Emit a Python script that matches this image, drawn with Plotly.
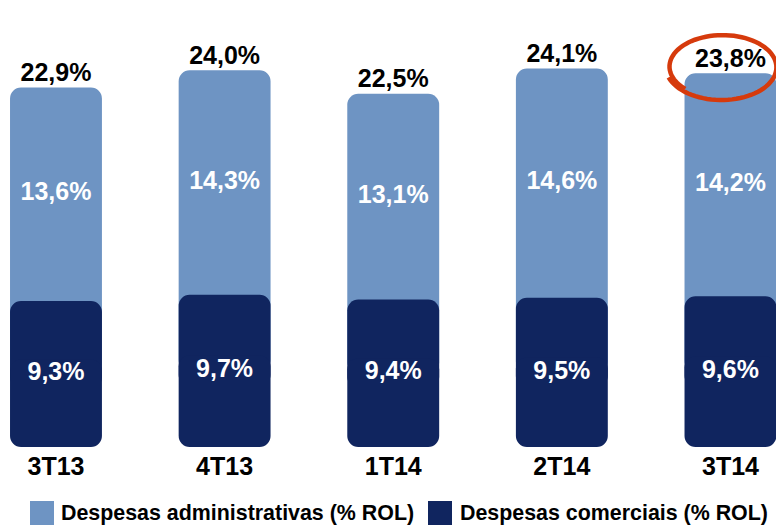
import numpy as np
import plotly.graph_objects as go

categories = ["3T13", "4T13", "1T14", "2T14", "3T14"]
desp_admin = [13.6, 14.3, 13.1, 14.6, 14.2]
desp_comerc = [9.3, 9.7, 9.4, 9.5, 9.6]
totals = [22.9, 24.0, 22.5, 24.1, 23.8]
legend_labels = ["Despesas administrativas (% ROL)", "Despesas comerciais (% ROL)"]

def pct(v):
    return f"{v:.1f}%".replace(".", ",")

LIGHT = "#6E94C3"
DARK = "#10255F"
FONT = "Liberation Sans, Arial, sans-serif"
BW = 0.545
R = 11
YMAX = 28.47

x = list(range(len(categories)))

fig = go.Figure()
# light (admin) segment: from inside the dark bar up to the total, rounded top
fig.add_trace(go.Bar(x=x, y=[t - c / 2 for t, c in zip(totals, desp_comerc)],
                     base=[c / 2 for c in desp_comerc],
                     width=BW, marker=dict(color=LIGHT, cornerradius=R, line=dict(width=0)),
                     showlegend=False, hoverinfo="skip"))
# dark (comercial) segment, upper part (rounded top)
fig.add_trace(go.Bar(x=x, y=[c * 0.6 for c in desp_comerc], base=[c * 0.4 for c in desp_comerc],
                     width=BW, marker=dict(color=DARK, cornerradius=R, line=dict(width=0)),
                     showlegend=False, hoverinfo="skip"))
# labels on the main axis
fig.add_trace(go.Scatter(x=x, y=[(c + t) / 2 for c, t in zip(desp_comerc, totals)], mode="text",
                         text=[pct(v) for v in desp_admin],
                         textfont=dict(family=FONT, size=25, color="white", weight="bold"),
                         showlegend=False, hoverinfo="skip"))
fig.add_trace(go.Scatter(x=x, y=totals, mode="text", textposition="top center",
                         text=[pct(v) for v in totals],
                         textfont=dict(family=FONT, size=25, color="black", weight="bold"),
                         showlegend=False, hoverinfo="skip"))
# dark (comercial) segment, lower part drawn on a shifted twin axis so its bottom is rounded
fig.add_trace(go.Bar(x=x, y=[-c * 0.6 for c in desp_comerc],
                     base=[c * 0.6 - YMAX for c in desp_comerc], yaxis="y2",
                     width=BW, marker=dict(color=DARK, cornerradius=R, line=dict(width=0)),
                     showlegend=False, hoverinfo="skip"))
# dark segment labels (on the twin axis so they sit above the lower part)
fig.add_trace(go.Scatter(x=x, y=[c / 2 - YMAX for c in desp_comerc], yaxis="y2", mode="text",
                         text=[pct(v) for v in desp_comerc],
                         textfont=dict(family=FONT, size=25, color="white", weight="bold"),
                         showlegend=False, hoverinfo="skip"))

W, H, PT, PB = 776, 526, 0, 79
ph = H - PT - PB

def px2paper(px, py):
    return px / W, (ph - py) / ph

# legend (drawn manually so the swatches match the reference size)
sw = [(30, LIGHT, 59), (428, DARK, 458)]
for (sx, col, tx), lab in zip(sw, legend_labels):
    x0, y0 = px2paper(sx, 525)
    x1, y1 = px2paper(sx + 24, 501)
    fig.add_shape(type="rect", xref="paper", yref="paper", x0=x0, x1=x1, y0=y0, y1=y1,
                  fillcolor=col, line=dict(width=0), layer="above")
    ax, ay = px2paper(tx, 513)
    fig.add_annotation(x=ax, y=ay, xref="paper", yref="paper", xanchor="left", yanchor="middle",
                       text=lab, showarrow=False,
                       font=dict(family=FONT, size=21.4, color="black", weight="bold"))

# red swoosh around the last total label
cx, cy, rx, ry = 722, 67, 52, 31
th = np.linspace(-0.75 * np.pi, -0.75 * np.pi - 2.15 * np.pi, 90)
grow = np.linspace(1.0, 1.08, th.size)
pts = [px2paper(cx + rx * g * np.cos(t), cy - ry * g * np.sin(t)) for t, g in zip(th, grow)]
path = "M " + " L ".join(f"{a:.4f},{b:.4f}" for a, b in pts)
fig.add_shape(type="path", path=path, xref="paper", yref="paper",
              line=dict(color="#D63A0C", width=4.5))

fig.update_layout(
    width=W, height=H,
    margin=dict(l=0, r=0, t=PT, b=PB),
    paper_bgcolor="white", plot_bgcolor="white",
    barmode="overlay",
    font=dict(family=FONT, color="black"),
    xaxis=dict(range=[-0.332, 4.27], tickvals=x, ticktext=categories,
               tickfont=dict(size=25, family=FONT, color="black", weight="bold"),
               showgrid=False, zeroline=False, showline=False, ticks="",
               ticklabelstandoff=2, automargin=False),
    yaxis=dict(range=[0, YMAX], visible=False, showgrid=False, zeroline=False, automargin=False),
    yaxis2=dict(range=[-YMAX, 0], overlaying="y", visible=False, showgrid=False,
                zeroline=False, automargin=False),
    showlegend=False,
)

fig.write_html("out.html", config={"displayModeBar": False},
               post_script="document.body.style.margin='0';")
